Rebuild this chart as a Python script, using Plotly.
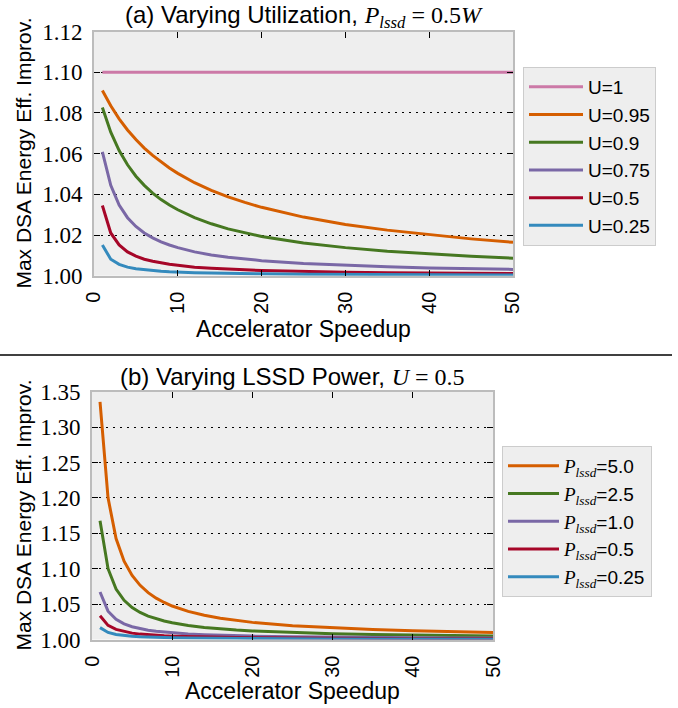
import plotly.graph_objects as go

W, H = 678, 708

# ---------------- data ----------------
speedup = [1, 2, 3, 4, 5, 6, 7, 8, 9, 10, 12, 14, 16, 18, 20, 25, 30, 35, 40, 45, 50]

util_labels = ["U=1", "U=0.95", "U=0.9", "U=0.75", "U=0.5", "U=0.25"]
u100 = [1.10, 1.10, 1.10, 1.10, 1.10, 1.10, 1.10, 1.10, 1.10, 1.10, 1.10,
        1.10, 1.10, 1.10, 1.10, 1.10, 1.10, 1.10, 1.10, 1.10, 1.10]
u095 = [1.0910, 1.0835, 1.0771, 1.0716, 1.0669, 1.0627, 1.0591, 1.0558, 1.0529, 1.0503, 1.0457,
        1.0419, 1.0387, 1.0360, 1.0336, 1.0288, 1.0252, 1.0224, 1.0201, 1.0181, 1.0164]
u090 = [1.0827, 1.0705, 1.0615, 1.0545, 1.0489, 1.0444, 1.0406, 1.0374, 1.0347, 1.0324, 1.0285,
        1.0255, 1.0230, 1.0210, 1.0193, 1.0161, 1.0138, 1.0120, 1.0107, 1.0096, 1.0086]
u075 = [1.0608, 1.0444, 1.0347, 1.0285, 1.0242, 1.0210, 1.0186, 1.0166, 1.0151, 1.0138, 1.0117,
        1.0102, 1.0091, 1.0081, 1.0074, 1.0060, 1.0051, 1.0044, 1.0038, 1.0034, 1.0031]
u050 = [1.0345, 1.0210, 1.0151, 1.0117, 1.0096, 1.0081, 1.0071, 1.0062, 1.0056, 1.0051, 1.0042,
        1.0037, 1.0032, 1.0029, 1.0026, 1.0021, 1.0017, 1.0015, 1.0013, 1.0012, 1.0011]
u025 = [1.0151, 1.0081, 1.0056, 1.0042, 1.0034, 1.0029, 1.0025, 1.0022, 1.0019, 1.0017, 1.0015,
        1.0013, 1.0011, 1.0010, 1.0009, 1.0007, 1.0006, 1.0005, 1.0004, 1.0004, 1.0004]
util_series = [u100, u095, u090, u075, u050, u025]

power_labels = ["5.0", "2.5", "1.0", "0.5", "0.25"]
p500 = [1.3355, 1.2000, 1.1425, 1.1106, 1.0904, 1.0765, 1.0662, 1.0584, 1.0523, 1.0473, 1.0397,
        1.0342, 1.0301, 1.0268, 1.0242, 1.0194, 1.0163, 1.0140, 1.0122, 1.0109, 1.0098]
p250 = [1.1677, 1.1000, 1.0712, 1.0553, 1.0452, 1.0382, 1.0331, 1.0292, 1.0261, 1.0236, 1.0198,
        1.0171, 1.0150, 1.0134, 1.0121, 1.0097, 1.0081, 1.0070, 1.0061, 1.0054, 1.0049]
p100 = [1.0671, 1.0400, 1.0285, 1.0221, 1.0181, 1.0153, 1.0132, 1.0117, 1.0105, 1.0095, 1.0079,
        1.0068, 1.0060, 1.0054, 1.0048, 1.0039, 1.0033, 1.0028, 1.0024, 1.0022, 1.0020]
p050 = [1.0335, 1.0200, 1.0142, 1.0111, 1.0090, 1.0076, 1.0066, 1.0058, 1.0052, 1.0047, 1.0040,
        1.0034, 1.0030, 1.0027, 1.0024, 1.0019, 1.0016, 1.0014, 1.0012, 1.0011, 1.0010]
p025 = [1.0168, 1.0100, 1.0071, 1.0055, 1.0045, 1.0038, 1.0033, 1.0029, 1.0026, 1.0024, 1.0020,
        1.0017, 1.0015, 1.0013, 1.0012, 1.0010, 1.0008, 1.0007, 1.0006, 1.0005, 1.0005]
power_series = [p500, p250, p100, p050, p025]

x_ticks = [0, 10, 20, 30, 40, 50]
top_y_ticks = [1.00, 1.02, 1.04, 1.06, 1.08, 1.10, 1.12]
bot_y_ticks = [1.00, 1.05, 1.10, 1.15, 1.20, 1.25, 1.30, 1.35]

# ---------------- style ----------------
util_colors = ["#CC79A7", "#D55E00", "#467821", "#7A68A6", "#A60628", "#348ABD"]
power_colors = ["#D55E00", "#467821", "#7A68A6", "#A60628", "#348ABD"]
SANS = "Liberation Sans, Arial, sans-serif"
SERIF = "Liberation Serif, Times New Roman, serif"

def px_x(p):
    return p / W

def px_y(p):
    return 1 - p / H

fig = go.Figure()

for name, ys, col in zip(util_labels, util_series, util_colors):
    fig.add_trace(go.Scatter(x=speedup, y=ys, mode="lines", name=name,
                             line=dict(color=col, width=3), xaxis="x", yaxis="y",
                             legend="legend", legendgroup=name))

for name, ys, col in zip(power_labels, power_series, power_colors):
    label = ("<span style='font-family:Liberation Serif'><i>P</i><sub><i>lssd</i></sub></span>="
             + name)
    fig.add_trace(go.Scatter(x=speedup, y=ys, mode="lines", name=label,
                             line=dict(color=col, width=3), xaxis="x2", yaxis="y2",
                             legend="legend2", legendgroup="p" + name))

axis_common = dict(showline=True, linecolor="#bcbcbc", linewidth=2, mirror="ticks",
                   ticks="inside", ticklen=6, tickcolor="black", tickwidth=1,
                   zeroline=False, automargin=False)

top_x = [94, 513]
top_y = [275.7, 31.5]
bot_x = [92, 493]
bot_y = [639.5, 391.7]
GRID_DASH = "2px,5px"

fig.update_layout(
    width=W, height=H, autosize=False,
    margin=dict(l=0, r=0, t=0, b=0),
    paper_bgcolor="white", plot_bgcolor="#eeeeee",
    showlegend=True,
    xaxis=dict(domain=[px_x(top_x[0]), px_x(top_x[1])], range=[0, 50], tickvals=x_ticks,
               tickangle=-90, tickfont=dict(family=SANS, size=20, color="black"),
               showgrid=False, anchor="y", ticklabelstandoff=6, **axis_common),
    yaxis=dict(domain=[px_y(top_y[0]), px_y(top_y[1])], range=[1.0, 1.12], tickvals=top_y_ticks,
               tickformat=".2f", tickfont=dict(family=SERIF, size=23, color="black"),
               showgrid=True, gridcolor="black", griddash=GRID_DASH, gridwidth=1,
               anchor="x", ticklabelstandoff=5, **axis_common),
    xaxis2=dict(domain=[px_x(bot_x[0]), px_x(bot_x[1])], range=[0, 50], tickvals=x_ticks,
                tickangle=-90, tickfont=dict(family=SANS, size=20, color="black"),
                showgrid=False, anchor="y2", ticklabelstandoff=6, **axis_common),
    yaxis2=dict(domain=[px_y(bot_y[0]), px_y(bot_y[1])], range=[1.0, 1.35], tickvals=bot_y_ticks,
                tickformat=".2f", tickfont=dict(family=SERIF, size=23, color="black"),
                showgrid=True, gridcolor="black", griddash=GRID_DASH, gridwidth=1,
                anchor="x2", ticklabelstandoff=5, **axis_common),
    legend=dict(x=px_x(523), y=px_y(67), xanchor="left", yanchor="top",
                bgcolor="#eeeeee", bordercolor="#cccccc", borderwidth=1, itemwidth=54,
                font=dict(family=SANS, size=19, color="black"), tracegroupgap=0),
    legend2=dict(x=px_x(502), y=px_y(446), xanchor="left", yanchor="top",
                 bgcolor="#eeeeee", bordercolor="#cccccc", borderwidth=1, itemwidth=51,
                 font=dict(family=SANS, size=19, color="black"), tracegroupgap=0),
)

ann = []
title_a = ("(a) Varying Utilization, <span style='font-family:Liberation Serif'>"
           "<i>P</i><sub><i>lssd</i></sub> = 0.5<i>W</i></span>")
title_b = ("(b) Varying LSSD Power, <span style='font-family:Liberation Serif'>"
           "<i>U</i> = 0.5</span>")
ann.append(dict(text=title_a, x=px_x((top_x[0] + top_x[1]) / 2), y=px_y(16),
                xref="paper", yref="paper", showarrow=False, xanchor="center", yanchor="middle",
                font=dict(family=SANS, size=24, color="black")))
ann.append(dict(text=title_b, x=px_x((bot_x[0] + bot_x[1]) / 2), y=px_y(376),
                xref="paper", yref="paper", showarrow=False, xanchor="center", yanchor="middle",
                font=dict(family=SANS, size=24, color="black")))
for xc, yc in [((top_x[0] + top_x[1]) / 2, 329), ((bot_x[0] + bot_x[1]) / 2, 691)]:
    ann.append(dict(text="Accelerator Speedup", x=px_x(xc), y=px_y(yc), xref="paper",
                    yref="paper", showarrow=False, xanchor="center", yanchor="middle",
                    font=dict(family=SANS, size=23, color="black")))
for yc in [(top_y[0] + top_y[1]) / 2, (bot_y[0] + bot_y[1]) / 2]:
    ann.append(dict(text="Max DSA Energy Eff. Improv.", x=px_x(24), y=px_y(yc), xref="paper",
                    yref="paper", showarrow=False, textangle=-90, xanchor="center",
                    yanchor="middle", font=dict(family=SANS, size=21, color="black")))
fig.update_layout(annotations=ann)

fig.add_shape(type="line", xref="paper", yref="paper", x0=0, x1=px_x(672),
              y0=px_y(355), y1=px_y(355), line=dict(color="black", width=1.5))

# remove the browser's default 8px body margin so the figure sits at the window origin
fig.write_html("out.html", config={"displayModeBar": False},
               post_script="document.body.style.margin='0px';document.body.style.overflow='hidden';")
